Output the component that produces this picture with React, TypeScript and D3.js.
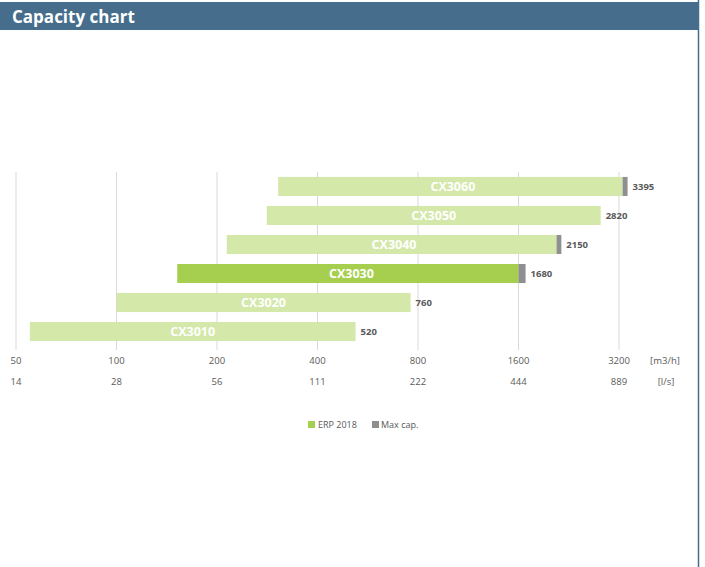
import React from "react";
import * as d3 from "d3";

const models = ["CX3010", "CX3020", "CX3030", "CX3040", "CX3050", "CX3060"];
const minFlow = [55, 100, 152, 214, 282, 305];
const erpFlow = [520, 760, 1600, 2080, 2820, 3280];
const maxFlow = [520, 760, 1680, 2150, 2820, 3395];
const highlighted = "CX3030";
const ticksM3h = [50, 100, 200, 400, 800, 1600, 3200];
const ticksLs = ["14", "28", "56", "111", "222", "444", "889"];
const unitM3h = "[m3/h]";
const unitLs = "[l/s]";
const legendItems = ["ERP 2018", "Max cap."];

const W = 705;
const H = 567;
const FONT = "'Open Sans', 'Noto Sans', sans-serif";
const C_LIGHT = "#d3e8a9";
const C_DARK = "#a6cf4f";
const C_GRAY = "#8f8f8f";
const C_TEXT = "#595959";
const C_HEAD = "#466e8c";

export default function App() {
  const x = d3.scaleLog().base(2).domain([50, 3200]).range([16, 619]);
  const order = [...models].reverse();
  const y = d3
    .scaleBand<string>()
    .domain(order)
    .range([172, 346])
    .paddingInner(0.345)
    .paddingOuter(0.17);
  const bw = y.bandwidth();

  return (
    <svg
      width={W}
      height={H}
      style={{ position: "absolute", left: 0, top: 0, background: "#fff" }}
      fontFamily={FONT}
    >
      <rect x={0} y={0} width={W} height={H} fill="#fff" />
      {/* header */}
      <rect x={0} y={2} width={698} height={28} fill={C_HEAD} />
      <text x={12} y={23} fill="#fff" fontSize={17} fontWeight={700}>
        Capacity chart
      </text>
      <line x1={698.5} x2={698.5} y1={0} y2={H} stroke={C_HEAD} strokeWidth={1.5} />

      {/* gridlines */}
      {ticksM3h.map((t) => (
        <line
          key={"g" + t}
          x1={x(t)}
          x2={x(t)}
          y1={172}
          y2={350}
          stroke="#d9d9d9"
          strokeWidth={1}
        />
      ))}

      {/* bars */}
      {models.map((m, i) => {
        const yy = y(m)!;
        const x0 = x(minFlow[i]);
        const x1 = x(erpFlow[i]);
        const x2 = x(maxFlow[i]);
        const fill = m === highlighted ? C_DARK : C_LIGHT;
        return (
          <g key={m}>
            <rect x={x0} y={yy} width={x1 - x0} height={bw} fill={fill} />
            {x2 - x1 > 0.5 && (
              <rect x={x1} y={yy} width={x2 - x1} height={bw} fill={C_GRAY} />
            )}
            <text
              x={(x0 + x2) / 2}
              y={yy + bw / 2 + 4.5}
              textAnchor="middle"
              fill="#fff"
              fontSize={12.5}
              fontWeight={700}
            >
              {m}
            </text>
            <text
              x={x2 + 5}
              y={yy + bw / 2 + 3.5}
              fill={C_TEXT}
              fontSize={9.5}
              fontWeight={700}
            >
              {maxFlow[i]}
            </text>
          </g>
        );
      })}

      {/* axis labels */}
      {ticksM3h.map((t, i) => (
        <g key={"l" + t}>
          <text x={x(t)} y={364} textAnchor="middle" fill={C_TEXT} fontSize={9.5}>
            {t}
          </text>
          <text x={x(t)} y={385} textAnchor="middle" fill={C_TEXT} fontSize={9.5}>
            {ticksLs[i]}
          </text>
        </g>
      ))}
      <text x={665} y={364} textAnchor="middle" fill={C_TEXT} fontSize={9.5}>
        {unitM3h}
      </text>
      <text x={666} y={385} textAnchor="middle" fill={C_TEXT} fontSize={9.5}>
        {unitLs}
      </text>

      {/* legend */}
      <rect x={308} y={421} width={7} height={7} fill={C_DARK} />
      <text x={318} y={428} fill={C_TEXT} fontSize={9}>
        {legendItems[0]}
      </text>
      <rect x={372} y={421} width={7} height={7} fill={C_GRAY} />
      <text x={381} y={428} fill={C_TEXT} fontSize={9}>
        {legendItems[1]}
      </text>
    </svg>
  );
}
